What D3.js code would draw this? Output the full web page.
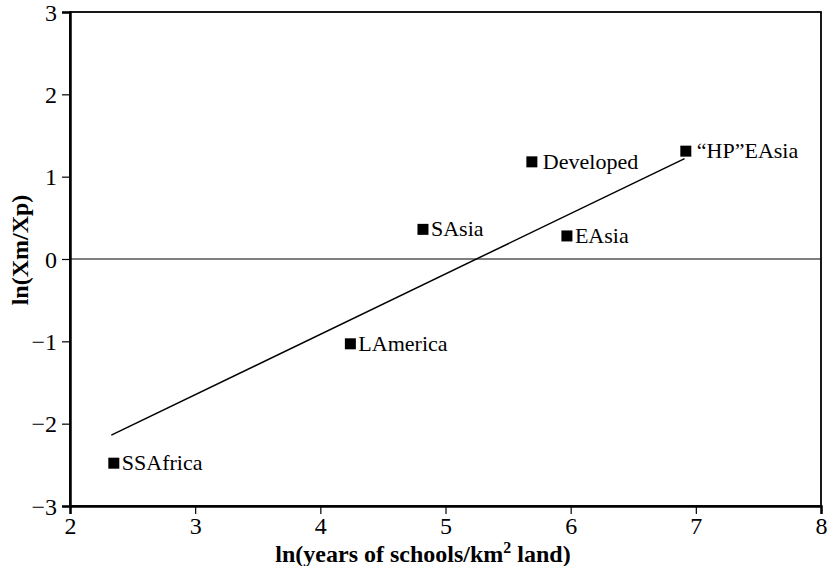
<!DOCTYPE html>
<html>
<head>
<meta charset="utf-8">
<script src="https://cdn.jsdelivr.net/npm/d3@7"></script>
<style>
  body { margin: 0; background: #fff; }
</style>
</head>
<body>
<div id="chart"></div>
<script>
// regions and their values
var regions = ["SSAfrica", "LAmerica", "SAsia", "Developed", "EAsia", "\u201cHP\u201dEAsia"];
var schoolsLn = [2.35, 4.24, 4.82, 5.69, 5.97, 6.92];
var ratioLn = [-2.48, -1.03, 0.36, 1.18, 0.28, 1.31];
var gap = [0, 0, 0, 1, 0, 1]; // a space after the marker in the original

// fitted line end points
var fitX = [2.33, 6.91];
var fitY = [-2.14, 1.22];

var xTicks = [2, 3, 4, 5, 6, 7, 8];
var yTicks = [-3, -2, -1, 0, 1, 2, 3];

var serif = "'Liberation Serif', Tinos, 'Times New Roman', serif";

var width = 830, height = 566;
var margin = { top: 12, right: 9, bottom: 60, left: 70 };
var w = width - margin.left - margin.right;
var h = height - margin.top - margin.bottom;

var svg = d3.select("#chart").append("svg")
  .attr("width", width)
  .attr("height", height)
  .attr("font-family", serif);

var g = svg.append("g")
  .attr("transform", "translate(" + margin.left + "," + margin.top + ")");

var x = d3.scaleLinear().domain([2, 8]).range([0, w]);
var y = d3.scaleLinear().domain([-3, 3]).range([h, 0]);

var points = regions.map(function(d, i) {
  return { name: d, x: schoolsLn[i], y: ratioLn[i], gap: gap[i] };
});

// box
g.append("rect")
  .attr("width", w)
  .attr("height", h)
  .attr("fill", "none")
  .attr("stroke", "#000")
  .attr("stroke-width", 1.8);

// zero line
g.append("line")
  .attr("x1", x(2)).attr("x2", x(8))
  .attr("y1", y(0)).attr("y2", y(0))
  .attr("stroke", "#000")
  .attr("stroke-width", 1);

// fitted line
g.append("line")
  .attr("x1", x(fitX[0])).attr("y1", y(fitY[0]))
  .attr("x2", x(fitX[1])).attr("y2", y(fitY[1]))
  .attr("stroke", "#000")
  .attr("stroke-width", 1.5);

function styleAxis(ax) {
  ax.attr("font-family", serif).attr("font-size", 24);
  ax.select(".domain").attr("stroke", "#000").attr("stroke-width", 2.5);
  ax.selectAll(".tick line").attr("stroke", "#000").attr("stroke-width", 1.2);
  ax.selectAll(".tick text").attr("fill", "#000");
}

var xAxis = g.append("g")
  .attr("transform", "translate(0," + h + ")")
  .call(d3.axisBottom(x).tickValues(xTicks).tickSize(8).tickPadding(3).tickFormat(d3.format("d")));
styleAxis(xAxis);

var yAxis = g.append("g")
  .call(d3.axisLeft(y).tickValues(yTicks).tickSize(8).tickPadding(5)
    .tickFormat(function(d) { return d < 0 ? "\u2212" + Math.abs(d) : d; }));
styleAxis(yAxis);
yAxis.selectAll(".tick text").attr("dy", "0.34em");

// markers
var pt = g.selectAll(".pt")
  .data(points)
  .enter().append("g")
  .attr("class", "pt")
  .attr("transform", function(d) { return "translate(" + x(d.x) + "," + y(d.y) + ")"; });

pt.append("rect")
  .attr("x", -5.5).attr("y", -5.5)
  .attr("width", 11).attr("height", 11)
  .attr("fill", "#000");

pt.append("text")
  .attr("x", function(d) { return d.gap ? 11 : 8; })
  .attr("y", 7)
  .attr("font-size", 22)
  .text(function(d) { return d.name; });

// axis titles
var xt = svg.append("text")
  .attr("x", 423)
  .attr("y", 562)
  .attr("text-anchor", "middle")
  .attr("font-size", 24)
  .attr("font-weight", "bold");
xt.append("tspan").text("ln(years of schools/km");
xt.append("tspan").attr("dy", -9).attr("font-size", 16).text("2");
xt.append("tspan").attr("dy", 9).text(" land)");

svg.append("text")
  .attr("transform", "translate(28,250) rotate(-90)")
  .attr("text-anchor", "middle")
  .attr("font-size", 24)
  .attr("font-weight", "bold")
  .text("ln(Xm/Xp)");
</script>
</body>
</html>
